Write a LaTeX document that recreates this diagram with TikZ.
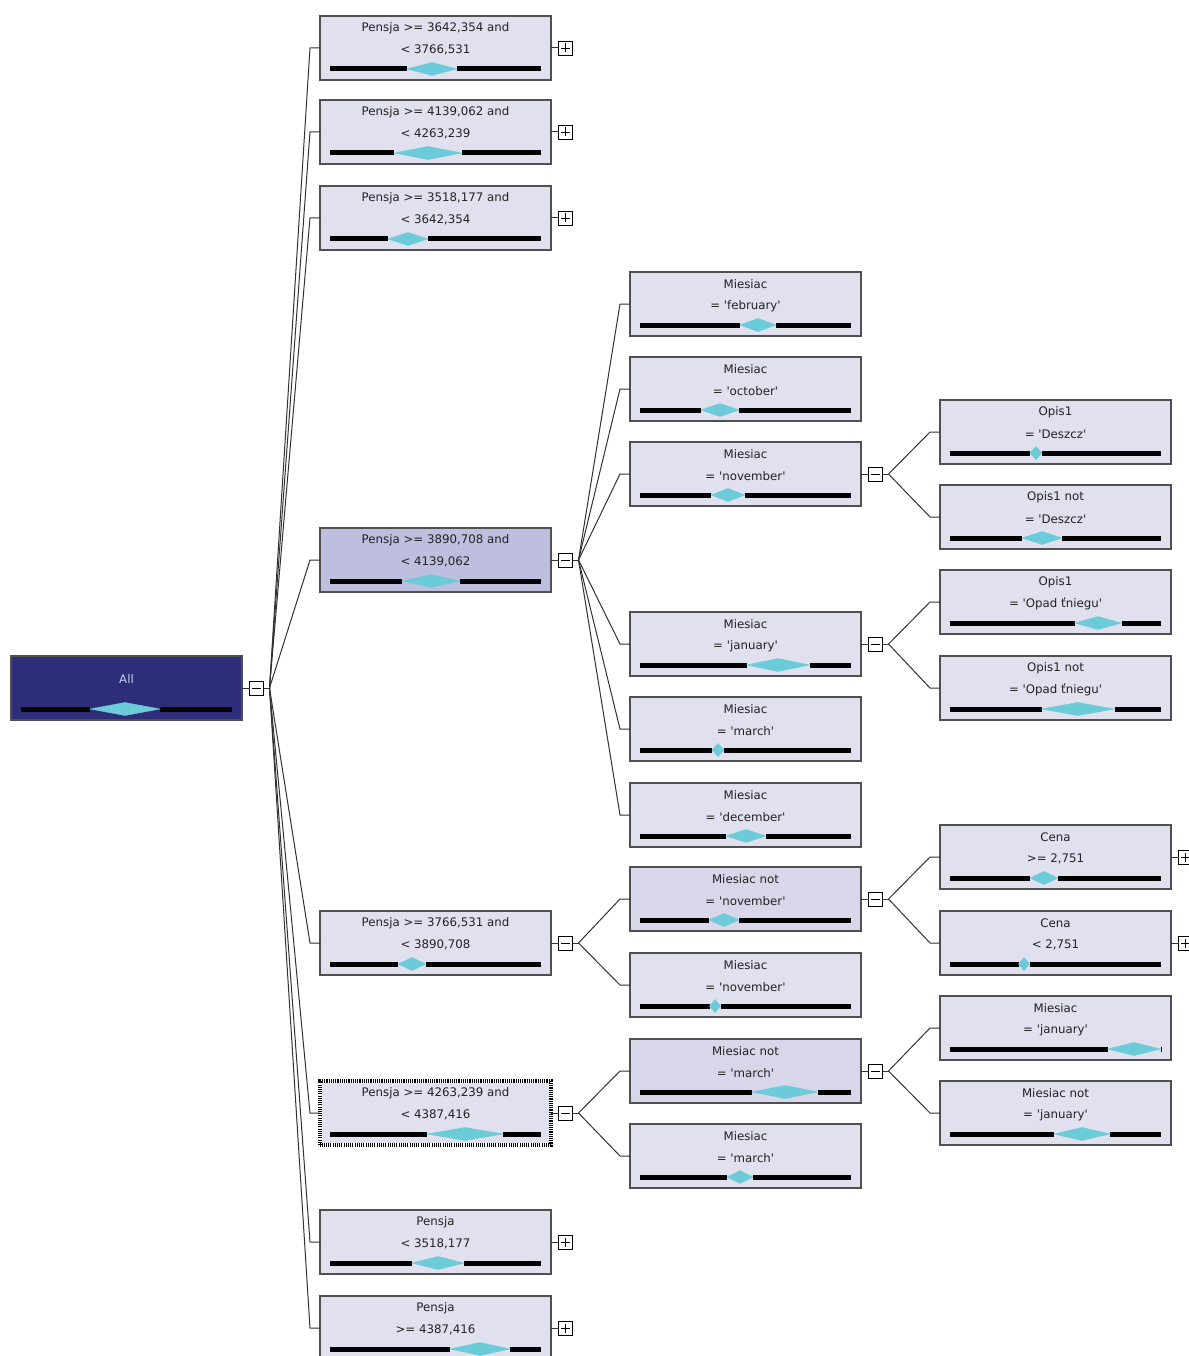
\documentclass[tikz,border=0pt]{standalone}
\usepackage{fontspec}
\setmainfont{DejaVu Sans}
\usetikzlibrary{calc}
\definecolor{nfill}{RGB}{224,224,238}
\definecolor{nfilldark}{RGB}{190,190,222}
\definecolor{nfillmid}{RGB}{215,215,233}
\definecolor{allfill}{RGB}{45,45,122}
\definecolor{alltext}{RGB}{205,205,238}
\definecolor{dcyan}{RGB}{108,203,216}
\definecolor{ntext}{RGB}{35,35,35}
\definecolor{nborder}{RGB}{80,80,80}
\definecolor{connc}{RGB}{50,50,50}
\newcommand\q{\textquotesingle}
\tikzset{
  box/.style={draw=nborder, line width=1.2pt, minimum width=231pt, minimum height=64pt, inner sep=0pt, outer sep=0pt},
  lbl/.style={font=\fontsize{11.8}{14}\selectfont, inner sep=0pt},
  barline/.style={line width=5pt, black},
  dia/.style={fill=dcyan, draw=dcyan, line width=0.4pt},
  expbox/.style={draw=black, fill=white, line width=0.9pt, minimum width=14pt, minimum height=14pt, inner sep=0pt, outer sep=0pt},
  conn/.style={draw=connc, line width=1pt},
  sign/.style={draw=black, line width=0.9pt},
}
% #1 name, #2 x, #3 y(top), #4 fill, #5 line1, #6 line2, #7 diamond centre, #8 diamond width, #9 text colour
\newcommand\tnbody[5]{%
  \draw[barline] ({#1+10},{#2+53}) -- ({#3-#4/2},{#2+53});
  \draw[barline] ({#3+#4/2},{#2+53}) -- ({#1+221},{#2+53});
  \filldraw[dia] ({#3-#4/2},{#2+53}) -- (#3,{#2+46.5}) -- ({#3+#4/2},{#2+53}) -- (#3,{#2+59.5}) -- cycle;
}
\newcommand\tn[9]{%
  \node[box, fill=#4, anchor=north west] (#1) at (#2,#3) {};
  \node[lbl, text=#9] (#1ta) at ($(#1.north)+(0,12)$) {#5};
  \node[lbl, text=#9] (#1tb) at ($(#1.north)+(0,34)$) {#6};
  \tnbody{#2}{#3}{#7}{#8}{}
}
\newcommand\xbox[1]{%
  \node[expbox, anchor=west] (#1x) at ([xshift=7.5pt]#1.east) {};
  \draw[conn] (#1.east) -- (#1x.west);
  \draw[sign] ([xshift=-4.5pt]#1x.center) -- ([xshift=4.5pt]#1x.center);
}
\newcommand\xplus[1]{\xbox{#1}\draw[sign] ([yshift=-4.5pt]#1x.center) -- ([yshift=4.5pt]#1x.center);}
\newcommand\xminus[1]{\xbox{#1}}
\newcommand\fan[2]{%
  \coordinate (#1f) at ([xshift=6pt]#1x.east);
  \draw[conn] (#1x.east) -- (#1f);
  \foreach \c in {#2} {\draw[conn] (#1f) -- ([xshift=-10pt]\c.west) -- (\c.west);}
}
\begin{document}
\begin{tikzpicture}[x=1pt,y=-1pt]
\useasboundingbox (0,0) rectangle (1188,1356);
\fill[white] (0,0) rectangle (1188,1356);
% root
\node[box, fill=allfill, anchor=north west] (all) at (11,656) {};
\node[lbl, text=alltext] (allta) at ($(all.north)+(0,23)$) {All};
\tnbody{11}{656}{125}{70}{}
% column 1
\tn{na}{320}{16}{nfill}{Pensja >= 3642,354 and}{< 3766,531}{432}{50}{ntext}
\tn{nb}{320}{100}{nfill}{Pensja >= 4139,062 and}{< 4263,239}{428}{68}{ntext}
\tn{nc}{320}{186}{nfill}{Pensja >= 3518,177 and}{< 3642,354}{408}{40}{ntext}
\tn{nd}{320}{528}{nfilldark}{Pensja >= 3890,708 and}{< 4139,062}{431}{58}{ntext}
\tn{ne}{320}{911}{nfill}{Pensja >= 3766,531 and}{< 3890,708}{412}{28}{ntext}
\tn{nf}{320}{1081}{nfill}{Pensja >= 4263,239 and}{< 4387,416}{465}{76}{ntext}
\tn{ng}{320}{1210}{nfill}{Pensja}{< 3518,177}{438}{52}{ntext}
\tn{nh}{320}{1296}{nfill}{Pensja}{>= 4387,416}{480}{60}{ntext}
% hatched border of selected node
\draw[white, line width=4pt] (nf.south west) rectangle (nf.north east);
\draw[black, line width=4pt, dash pattern=on 1.1pt off 1.1pt] (nf.south west) rectangle (nf.north east);
% column 2
\tn{ma}{630}{272}{nfill}{Miesiac}{= \q february\q}{758}{36}{ntext}
\tn{mb}{630}{357}{nfill}{Miesiac}{= \q october\q}{720}{38}{ntext}
\tn{mc}{630}{442}{nfill}{Miesiac}{= \q november\q}{728}{34}{ntext}
\tn{md}{630}{612}{nfill}{Miesiac}{= \q january\q}{778}{63}{ntext}
\tn{me}{630}{697}{nfill}{Miesiac}{= \q march\q}{718}{12}{ntext}
\tn{mf}{630}{783}{nfill}{Miesiac}{= \q december\q}{746}{40}{ntext}
\tn{mg}{630}{867}{nfillmid}{Miesiac not}{= \q november\q}{724}{30}{ntext}
\tn{mh}{630}{953}{nfill}{Miesiac}{= \q november\q}{715}{11}{ntext}
\tn{mi}{630}{1039}{nfillmid}{Miesiac not}{= \q march\q}{785}{66}{ntext}
\tn{mj}{630}{1124}{nfill}{Miesiac}{= \q march\q}{740}{26}{ntext}
% column 3
\tn{oa}{940}{400}{nfill}{Opis1}{= \q Deszcz\q}{1036}{12}{ntext}
\tn{ob}{940}{485}{nfill}{Opis1 not}{= \q Deszcz\q}{1042}{40}{ntext}
\tn{oc}{940}{570}{nfill}{Opis1}{= \q Opad ťniegu\q}{1098}{47}{ntext}
\tn{od}{940}{656}{nfill}{Opis1 not}{= \q Opad ťniegu\q}{1078}{73}{ntext}
\tn{oe}{940}{825}{nfill}{Cena}{>= 2,751}{1044}{28}{ntext}
\tn{of}{940}{911}{nfill}{Cena}{< 2,751}{1024}{11}{ntext}
\tn{og}{940}{996}{nfill}{Miesiac}{= \q january\q}{1134}{53}{ntext}
\tn{oh}{940}{1081}{nfill}{Miesiac not}{= \q january\q}{1082}{56}{ntext}
% expanders
\xminus{all}
\xplus{na}\xplus{nb}\xplus{nc}
\xminus{nd}\xminus{ne}\xminus{nf}
\xplus{ng}\xplus{nh}
\xminus{mc}\xminus{md}\xminus{mg}\xminus{mi}
\xplus{oe}\xplus{of}
% connectors
\fan{all}{na,nb,nc,nd,ne,nf,ng,nh}
\fan{nd}{ma,mb,mc,md,me,mf}
\fan{ne}{mg,mh}
\fan{nf}{mi,mj}
\fan{mc}{oa,ob}
\fan{md}{oc,od}
\fan{mg}{oe,of}
\fan{mi}{og,oh}
\end{tikzpicture}
\end{document}
